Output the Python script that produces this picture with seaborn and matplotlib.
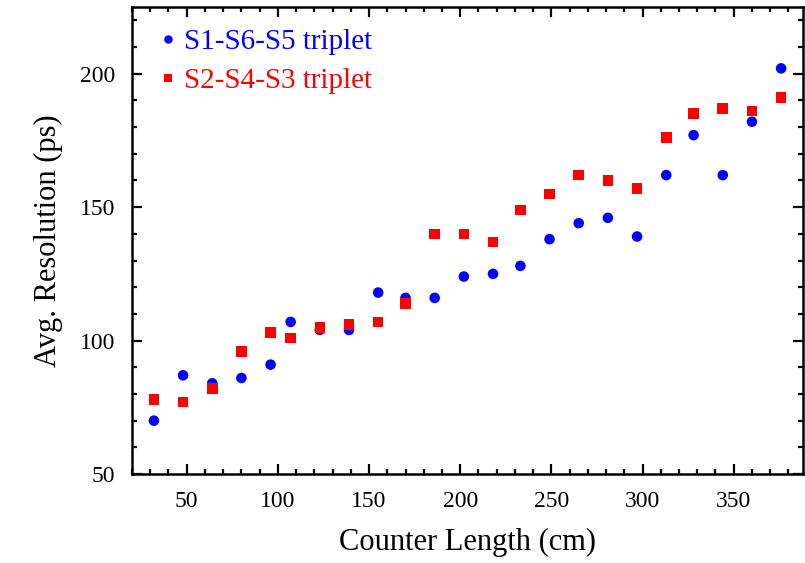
import numpy as np
import pandas as pd
import seaborn as sns
import matplotlib.pyplot as plt
from matplotlib.ticker import MultipleLocator

length = [32, 48, 64, 80, 96, 107, 123, 139, 155, 170, 186, 202,
          218, 233, 249, 265, 281, 297, 313, 328, 344, 360, 376]
res_s1s6s5 = [70, 87, 84, 86, 91, 107, 104, 104, 118, 116, 116, 124,
              125, 128, 138, 144, 146, 139, 162, 177, 162, 182, 202]
res_s2s4s3 = [78, 77, 82, 96, 103, 101, 105, 106, 107, 114, 140, 140,
              137, 149, 155, 162, 160, 157, 176, 185, 187, 186, 191]
labels = ["S1-S6-S5 triplet", "S2-S4-S3 triplet"]
colors = ["#0000ff", "#ff0000"]

df = pd.DataFrame({
    "length": length * 2,
    "res": res_s1s6s5 + res_s2s4s3,
    "triplet": [labels[0]] * len(length) + [labels[1]] * len(length),
})

sns.set_style("ticks")
plt.rcParams["font.family"] = ["Liberation Serif", "DejaVu Serif"]
for k in ["text.color", "axes.labelcolor", "xtick.color", "ytick.color", "axes.edgecolor"]:
    plt.rcParams[k] = "black"

fig = plt.figure(figsize=(8.05, 5.63), dpi=100)
ax = fig.add_axes([0.164, 0.158, 0.8335, 0.8296])

sns.scatterplot(data=df, x="length", y="res", hue="triplet", style="triplet",
                palette=dict(zip(labels, colors)),
                markers=dict(zip(labels, ["o", "s"])),
                s=58, linewidth=0, ax=ax)

ax.set_xlim(20, 388)
ax.set_ylim(50, 225)
ax.xaxis.set_major_locator(MultipleLocator(50))
ax.xaxis.set_minor_locator(MultipleLocator(10))
ax.yaxis.set_major_locator(MultipleLocator(50))
ax.yaxis.set_minor_locator(MultipleLocator(10))
ax.tick_params(which="both", direction="in", top=True, right=True,
               labelsize=17, width=1.6)
ax.tick_params(which="major", length=7, pad=12)
ax.tick_params(which="minor", length=3.5)
for sp in ax.spines.values():
    sp.set_linewidth(1.8)

ax.set_xlabel("Counter Length (cm)", fontsize=22, labelpad=12)
ax.set_ylabel("Avg. Resolution (ps)", fontsize=22, labelpad=12)

leg = ax.legend(loc="upper left", frameon=False, fontsize=21,
                handlelength=0.6, handletextpad=0.28, borderaxespad=0,
                labelspacing=0.44, markerscale=0.8,
                bbox_to_anchor=(0.0225, 0.979))
for txt, c in zip(leg.get_texts(), colors):
    txt.set_color(c)

fig.savefig("out.png", dpi=100)
